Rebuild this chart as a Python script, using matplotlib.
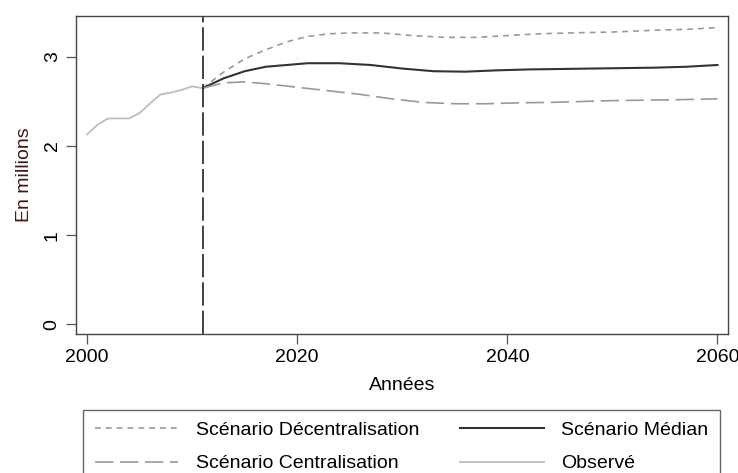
import matplotlib
matplotlib.use("Agg")
import matplotlib.pyplot as plt
from matplotlib.lines import Line2D

plt.rcParams['font.family'] = ['Liberation Sans', 'DejaVu Sans']

# observed series
obs_years = [2000, 2001, 2002, 2003, 2004, 2005, 2006, 2007, 2008, 2009, 2010, 2011]
obs_vals = [2.13, 2.24, 2.31, 2.31, 2.31, 2.37, 2.48, 2.58, 2.60, 2.63, 2.67, 2.65]

# median scenario
med_years = [2011, 2013, 2015, 2017, 2019, 2021, 2024, 2027, 2030, 2033, 2036,
             2039, 2042, 2045, 2048, 2051, 2054, 2057, 2060]
med_vals = [2.65, 2.76, 2.84, 2.89, 2.91, 2.93, 2.93, 2.91, 2.87, 2.84, 2.835,
            2.85, 2.86, 2.865, 2.87, 2.875, 2.88, 2.89, 2.91]

# decentralisation scenario
dec_years = [2011, 2013, 2015, 2017, 2019, 2021, 2023, 2025, 2028, 2031, 2034,
             2037, 2040, 2043, 2046, 2050, 2054, 2057, 2060]
dec_vals = [2.65, 2.83, 2.98, 3.08, 3.17, 3.23, 3.26, 3.27, 3.27, 3.24, 3.22,
            3.22, 3.24, 3.26, 3.27, 3.28, 3.30, 3.31, 3.33]

# centralisation scenario
cen_years = [2011, 2013, 2015, 2017, 2020, 2023, 2026, 2029, 2032, 2035, 2038,
             2041, 2044, 2047, 2050, 2053, 2056, 2060]
cen_vals = [2.65, 2.71, 2.72, 2.70, 2.66, 2.62, 2.58, 2.53, 2.49, 2.475, 2.475,
            2.485, 2.49, 2.50, 2.51, 2.515, 2.52, 2.53]

x_ticks = [2000, 2020, 2040, 2060]
y_ticks = [0, 1, 2, 3]
cut_year = 2011

fig = plt.figure(figsize=(7.38, 4.73), dpi=100)
ax = fig.add_axes([76 / 738, 1 - 334 / 473, (728 - 76) / 738, (334 - 16) / 473])

short_dash = (0, (3.5, 3))
long_dash = (0, (11, 4))

ax.plot(dec_years, dec_vals, color='#9a9a9a', lw=1.2, linestyle=short_dash)
ax.plot(med_years, med_vals, color='#333333', lw=1.5)
ax.plot(cen_years, cen_vals, color='#999999', lw=1.2, linestyle=long_dash)
ax.plot(obs_years, obs_vals, color='#bdbdbd', lw=1.3)
ax.axvline(cut_year, color='#222222', lw=1.2, linestyle=(0, (14, 3)))

ax.set_xlim(1998.95, 2061.0)
ax.set_ylim(-0.11, 3.46)
ax.set_xticks(x_ticks)
ax.set_yticks(y_ticks)
ax.tick_params(direction='out', length=7, width=0.9, colors='#555555',
               labelcolor='black', labelsize=14, pad=4)
for lab in ax.get_yticklabels():
    lab.set_rotation(90)
    lab.set_va('center')
for s in ax.spines.values():
    s.set_color('#444444')
    s.set_linewidth(1.0)

ax.set_xlabel('Années', fontsize=14, labelpad=8)
ax.set_ylabel('En millions', fontsize=14, color='#3d1a12', labelpad=8)

handles = [
    Line2D([], [], color='#9a9a9a', lw=1.2, linestyle=short_dash),
    Line2D([], [], color='#999999', lw=1.2, linestyle=long_dash),
    Line2D([], [], color='#333333', lw=1.5),
    Line2D([], [], color='#bdbdbd', lw=1.3),
]
labels = ['Scénario Décentralisation', 'Scénario Centralisation',
          'Scénario Médian', 'Observé']
leg = fig.legend(handles, labels, loc='upper left', ncol=2,
                 bbox_to_anchor=(83 / 738, 1 - 410 / 473, (720 - 83) / 738, 0.0),
                 mode='expand', fontsize=14, handlelength=4.3,
                 handletextpad=0.9, labelspacing=0.8, borderpad=0.6,
                 borderaxespad=0, fancybox=False, framealpha=1,
                 edgecolor='#666666')
leg.get_frame().set_linewidth(1.0)

fig.savefig('out.png', dpi=100)
